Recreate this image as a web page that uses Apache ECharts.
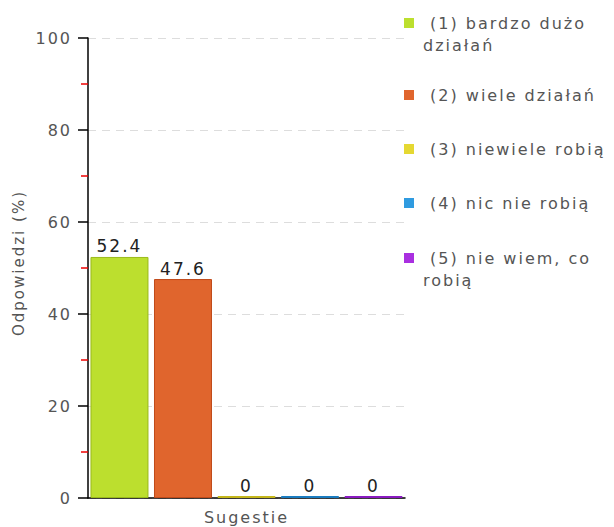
<!DOCTYPE html>
<html><head><meta charset="utf-8">
<script src="https://cdn.jsdelivr.net/npm/echarts@6/dist/echarts.min.js"></script>
<style>
html,body{margin:0;padding:0;background:#fff}
#c{width:614px;height:527px}
#c svg text{letter-spacing:2px}
</style>
</head><body><div id="c"></div>
<script>
const categories = ['Sugestie'];
const seriesNames = ['(1) bardzo dużo działań','(2) wiele działań','(3) niewiele robią','(4) nic nie robią','(5) nie wiem, co robią'];
const legendLabels = [' (1) bardzo dużo\ndziałań',' (2) wiele działań',' (3) niewiele robią',' (4) nic nie robią',' (5) nie wiem, co\nrobią'];
const values = [52.4, 47.6, 0, 0, 0];
const colors = ['#bcdf2e','#e0652d','#e5d832','#2f9be0','#a92fe0'];
const borders = ['#9aba1a','#c04a1a','#c4b61a','#1a7cc0','#8a1ac0'];
const legendTops = [11.75, 83.75, 137.75, 191.75, 246.75];

const font = 'DejaVu Sans';
const LH = 22.5;
const chart = echarts.init(document.getElementById('c'), null, {renderer:'svg'});

const legends = seriesNames.map(function(n,i){
  const two = legendLabels[i].indexOf('\n')>=0;
  return {
    orient:'vertical',left:404,top:legendTops[i],padding:0,
    itemWidth:10,itemHeight: two ? 10+LH : 10,
    icon: two ? 'path://M0,0L10,0L10,10L0,10Z M0,32.5L10,32.5' : 'rect',
    itemStyle:{borderWidth:0},
    textStyle:{fontFamily:font,fontSize:16,color:'#555',lineHeight:LH,padding:[0,0,0,4]},
    formatter:function(name){return legendLabels[seriesNames.indexOf(name)];},
    data:[n]
  };
});

chart.setOption({
  animation:false,
  textStyle:{fontFamily:font},
  grid:{left:88,right:209,top:38,bottom:29,containLabel:false},
  legend:legends,
  xAxis:{
    type:'category',data:categories,
    axisLine:{lineStyle:{color:'#000',width:1.5}},
    axisTick:{alignWithLabel:true,length:6,lineStyle:{color:'#000'}},
    axisLabel:{fontFamily:font,fontSize:16,color:'#555',margin:11}
  },
  yAxis:{
    type:'value',min:0,max:100,interval:20,
    name:'Odpowiedzi (%)',nameLocation:'middle',nameGap:62,
    nameTextStyle:{fontFamily:font,fontSize:15,color:'#555',padding:[0,0,0,10]},
    axisLine:{show:true,lineStyle:{color:'#000',width:1.5}},
    axisTick:{show:true,length:10,lineStyle:{color:'#000',width:1.5}},
    minorTick:{show:true,splitNumber:2,length:7,lineStyle:{color:'#e00',width:1.5}},
    axisLabel:{fontFamily:font,fontSize:16,color:'#555',margin:16},
    splitLine:{show:true,lineStyle:{color:'#ddd',type:[8,6]}}
  },
  series:seriesNames.map(function(n,i){
    return {
      name:n,type:'bar',barWidth:58,barGap:'9.5%',barMinHeight:2,
      data:[values[i]],
      itemStyle:{color:colors[i],borderColor:borders[i],borderWidth:1},
      label:{show:true,position:'top',fontFamily:font,fontSize:17,color:'#222',distance:2}
    };
  })
});
</script></body></html>
